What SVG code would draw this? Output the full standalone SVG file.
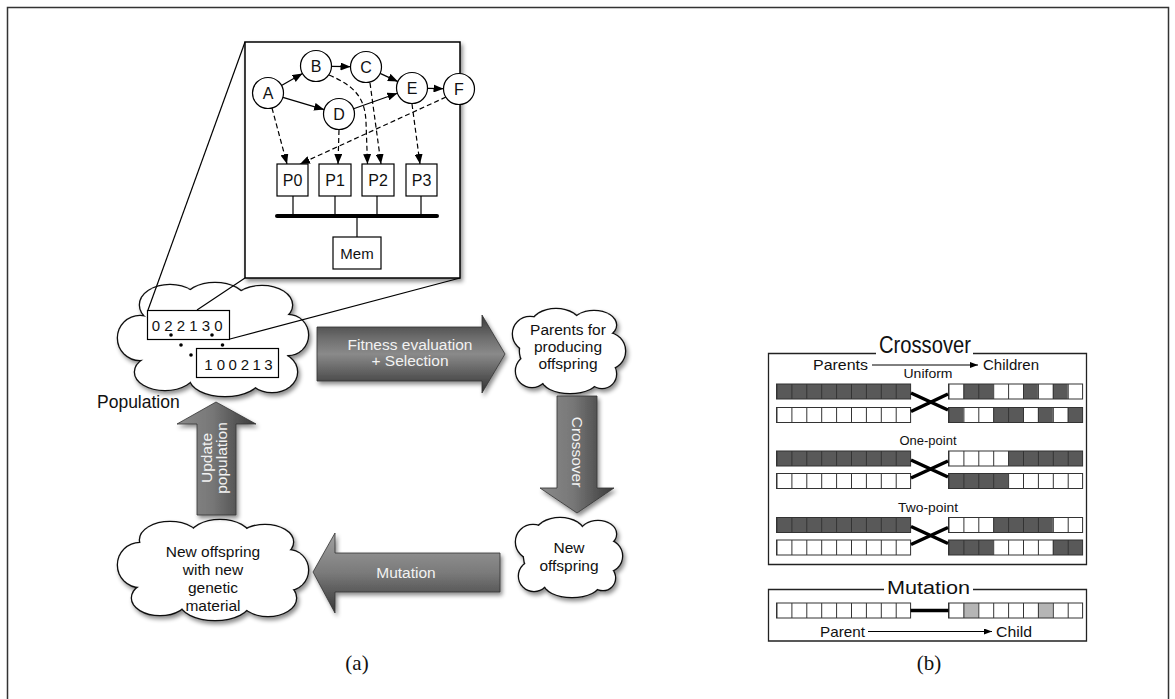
<svg xmlns="http://www.w3.org/2000/svg" width="1175" height="699" viewBox="0 0 1175 699">
<style>
text{font-family:"Liberation Sans",Arial,sans-serif;fill:#111}
.nd{fill:#fff;stroke:#000;stroke-width:1.2}
.nt{font-size:16px;text-anchor:middle}
.sol{fill:none;stroke:#000;stroke-width:1.2;marker-end:url(#ah)}
.dsh{fill:none;stroke:#000;stroke-width:1.2;stroke-dasharray:5 3;marker-end:url(#ah)}
.ln{fill:none;stroke:#000;stroke-width:1.2}
.cs{fill:#fff;stroke:#111;stroke-width:2.6}
.cf{fill:#fff;stroke:none}
.ct{font-size:15.5px;text-anchor:middle}
.at{font-size:15.5px;text-anchor:middle;fill:#f2f2f2}
.bw{fill:#fff}
.dk{fill:#595959}
.gr{fill:#b5b5b5}
.grid{fill:url(#cells);stroke:#333;stroke-width:1}
.box{fill:none;stroke:#222;stroke-width:1.3}
.xl{stroke:#000;stroke-width:3.5;fill:none}
.cap{font-family:"Liberation Serif","Times New Roman",serif;font-size:21px;text-anchor:middle}
</style>
<defs>
<marker id="ah" viewBox="0 0 10 8" refX="10" refY="4" markerWidth="10" markerHeight="8" orient="auto" markerUnits="userSpaceOnUse"><path d="M0,0 L10,4 L0,8 Z" fill="#000"/></marker>
<marker id="ah2" viewBox="0 0 8 6" refX="8" refY="3" markerWidth="8" markerHeight="6" orient="auto" markerUnits="userSpaceOnUse"><path d="M0,0 L8,3 L0,6 Z" fill="#000"/></marker>
<filter id="sh" x="-10%" y="-10%" width="130%" height="130%"><feDropShadow dx="2" dy="3" stdDeviation="2" flood-color="#000" flood-opacity="0.45"/></filter>
<pattern id="cells" width="14.9" height="15" patternUnits="userSpaceOnUse"><line x1="0" y1="0" x2="0" y2="15" stroke="#333" stroke-width="2"/></pattern>
<linearGradient id="gH1" x1="0" y1="0" x2="0" y2="1"><stop offset="0" stop-color="#3a3a3a"/><stop offset="0.3" stop-color="#6e6e6e"/><stop offset="0.5" stop-color="#8a8a8a"/><stop offset="0.72" stop-color="#636363"/><stop offset="1" stop-color="#303030"/></linearGradient>
<linearGradient id="gH2" x1="0" y1="0" x2="0" y2="1"><stop offset="0" stop-color="#a0a0a0"/><stop offset="0.5" stop-color="#7a7a7a"/><stop offset="1" stop-color="#363636"/></linearGradient>
<linearGradient id="gV" x1="0" y1="0" x2="1" y2="0"><stop offset="0" stop-color="#8a8a8a"/><stop offset="0.45" stop-color="#777"/><stop offset="1" stop-color="#3a3a3a"/></linearGradient>
<g id="c1">
<ellipse cx="213" cy="340" rx="80" ry="40"/><circle cx="140" cy="338" r="22"/><ellipse cx="170" cy="305" rx="30" ry="20"/><ellipse cx="215" cy="300" rx="30" ry="17"/><ellipse cx="262" cy="305" rx="30" ry="19"/><circle cx="288" cy="335" r="20"/><ellipse cx="272" cy="372" rx="25" ry="20"/><ellipse cx="225" cy="378" rx="35" ry="18"/><ellipse cx="165" cy="372" rx="30" ry="18"/>
</g>
<g id="c2">
<ellipse cx="568" cy="351" rx="48" ry="31"/><circle cx="530" cy="334" r="17"/><circle cx="532" cy="371" r="16"/><ellipse cx="556" cy="324" rx="24" ry="15"/><ellipse cx="594" cy="325" rx="22" ry="14"/><circle cx="607" cy="351" r="18"/><ellipse cx="570" cy="379" rx="28" ry="14"/><circle cx="602" cy="374" r="14"/>
</g>
<g id="c3">
<ellipse cx="568" cy="557" rx="44" ry="28"/><circle cx="533" cy="542" r="17"/><circle cx="534" cy="576" r="15"/><ellipse cx="560" cy="533" rx="24" ry="15"/><ellipse cx="598" cy="534" rx="18" ry="13"/><circle cx="606" cy="556" r="16"/><ellipse cx="572" cy="583" rx="28" ry="14"/><circle cx="603" cy="578" r="12"/>
</g>
<g id="c4">
<ellipse cx="213" cy="570" rx="80" ry="36"/><circle cx="140" cy="565" r="22"/><ellipse cx="170" cy="540" rx="30" ry="18"/><ellipse cx="220" cy="537" rx="30" ry="17"/><ellipse cx="265" cy="542" rx="28" ry="17"/><circle cx="288" cy="570" r="20"/><ellipse cx="268" cy="598" rx="28" ry="18"/><ellipse cx="215" cy="602" rx="35" ry="18"/><ellipse cx="160" cy="598" rx="28" ry="17"/>
</g>
</defs>
<rect x="7.5" y="7.5" width="1161" height="700" fill="#fff" stroke="#333" stroke-width="1.5"/>

<g id="cloud-population">
<g filter="url(#sh)"><use href="#c1" class="cs"/><use href="#c1" class="cf"/></g>
<text x="97" y="408" style="font-size:17.5px">Population</text>
</g>
<g id="cloud-parents">
<g filter="url(#sh)"><use href="#c2" class="cs"/><use href="#c2" class="cf"/></g>
<text class="ct" x="568" y="335">Parents for</text>
<text class="ct" x="568" y="352">producing</text>
<text class="ct" x="568" y="369">offspring</text>
</g>
<g id="cloud-newoffspring">
<g filter="url(#sh)"><use href="#c3" class="cs"/><use href="#c3" class="cf"/></g>
<text class="ct" x="569" y="553">New</text>
<text class="ct" x="569" y="571">offspring</text>
</g>
<g id="cloud-newgenetic">
<g filter="url(#sh)"><use href="#c4" class="cs"/><use href="#c4" class="cf"/></g>
<text class="ct" x="213" y="557">New offspring</text>
<text class="ct" x="213" y="575">with new</text>
<text class="ct" x="213" y="593">genetic</text>
<text class="ct" x="213" y="611">material</text>
</g>

<g id="arrow-fitness">
<path d="M317,327 H482 V315 L505,354 L482,393 V381 H317 Z" fill="url(#gH1)" stroke="#333" stroke-width="0.8" filter="url(#sh)"/>
<text class="at" x="410" y="350">Fitness evaluation</text>
<text class="at" x="410" y="366">+ Selection</text>
</g>
<g id="arrow-crossover">
<path d="M557,396 H597 V488 H614 L577,513 L540,488 H557 Z" fill="url(#gV)" stroke="#333" stroke-width="0.8" filter="url(#sh)"/>
<text class="at" transform="translate(577,452) rotate(90)" x="0" y="5">Crossover</text>
</g>
<g id="arrow-mutation">
<path d="M500,553 H335 V533 L313,572 L335,613 V592 H500 Z" fill="url(#gH2)" stroke="#333" stroke-width="0.8" filter="url(#sh)"/>
<text class="at" x="406" y="578">Mutation</text>
</g>
<g id="arrow-update">
<path d="M197,515 V424 H177 L216,402 L256,424 H236 V515 Z" fill="url(#gV)" stroke="#333" stroke-width="0.8" filter="url(#sh)"/>
<g transform="translate(216,458) rotate(-90)">
<text class="at" x="0" y="-4">Update</text>
<text class="at" x="0" y="11">population</text>
</g>
</g>

<g id="zoom-lines">
<line class="ln" x1="245" y1="42" x2="148" y2="310"/>
<line class="ln" x1="245" y1="278" x2="197" y2="310"/>
<line class="ln" x1="460" y1="278" x2="230" y2="339"/>
</g>
<g id="chromosomes">
<rect x="147.5" y="310.5" width="82" height="29" fill="#fff" stroke="#000" stroke-width="1.2"/>
<text x="151.8 164.3 176.8 189.3 201.8 214.3" y="331" style="font-size:15px">022130</text>
<rect x="196.5" y="348.5" width="82" height="29" fill="#fff" stroke="#000" stroke-width="1.2"/>
<text x="204.2 216.7 228.5 240.8 252.5 264.2" y="370" style="font-size:15px">100213</text>
<g fill="#000"><circle cx="171" cy="335" r="1.8"/><circle cx="212" cy="335" r="1.8"/><circle cx="181" cy="345" r="1.8"/><circle cx="222.5" cy="345" r="1.8"/><circle cx="191" cy="355" r="1.8"/></g>
</g>

<g id="inset">
<rect x="245" y="42" width="215" height="236" fill="#fff" stroke="#000" stroke-width="1.5" filter="url(#sh)"/>
<g id="connectors">
<line class="sol" x1="281.5" y1="85.4" x2="302.5" y2="73.6"/>
<line class="sol" x1="331.5" y1="66.3" x2="350.5" y2="66.7"/>
<line class="sol" x1="380.1" y1="73.4" x2="397.9" y2="81.6"/>
<line class="sol" x1="282.9" y1="97.4" x2="324.1" y2="109.6"/>
<line class="sol" x1="353.6" y1="108.8" x2="397.4" y2="93.2"/>
<line class="sol" x1="427.5" y1="88.3" x2="443.5" y2="88.7"/>
<line class="dsh" x1="272" y1="108" x2="287" y2="164"/>
<line class="dsh" x1="339" y1="130" x2="338" y2="164"/>
<path class="dsh" d="M329,75 C355,86 365,98 366,122 L367.5,164"/>
<line class="dsh" x1="370" y1="83" x2="381" y2="164"/>
<line class="dsh" x1="412" y1="104" x2="420" y2="164"/>
<line class="dsh" x1="446" y1="97" x2="300" y2="164"/>
<line class="ln" x1="293" y1="196" x2="293" y2="216"/>
<line class="ln" x1="335" y1="196" x2="335" y2="216"/>
<line class="ln" x1="377" y1="196" x2="377" y2="216"/>
<line class="ln" x1="421" y1="196" x2="421" y2="216"/>
<line x1="277" y1="216" x2="437" y2="216" stroke="#000" stroke-width="4" stroke-linecap="round"/>
<line class="ln" x1="357" y1="216" x2="357" y2="237"/>
</g>
<g id="node-A"><circle class="nd" cx="268" cy="93" r="15.5"/><text class="nt" x="268" y="99">A</text></g>
<g id="node-B"><circle class="nd" cx="316" cy="66" r="15.5"/><text class="nt" x="316" y="72">B</text></g>
<g id="node-C"><circle class="nd" cx="366" cy="67" r="15.5"/><text class="nt" x="366" y="73">C</text></g>
<g id="node-D"><circle class="nd" cx="339" cy="114" r="15.5"/><text class="nt" x="339" y="120">D</text></g>
<g id="node-E"><circle class="nd" cx="412" cy="88" r="15.5"/><text class="nt" x="412" y="94">E</text></g>
<g id="node-F"><circle class="nd" cx="459" cy="89" r="15.5"/><text class="nt" x="459" y="95">F</text></g>
<g id="P0"><rect class="nd" x="277" y="164" width="31" height="32"/><text class="nt" x="292.5" y="186">P0</text></g>
<g id="P1"><rect class="nd" x="319" y="164" width="32" height="32"/><text class="nt" x="335" y="186">P1</text></g>
<g id="P2"><rect class="nd" x="362" y="164" width="32" height="32"/><text class="nt" x="378" y="186">P2</text></g>
<g id="P3"><rect class="nd" x="406" y="164" width="31" height="32"/><text class="nt" x="421.5" y="186">P3</text></g>
<g id="Mem"><rect class="nd" x="333" y="237" width="48" height="32"/><text class="nt" x="357" y="259" style="font-size:15px">Mem</text></g>
</g>

<text class="cap" x="357" y="670">(a)</text>

<g id="crossover-panel">
<path class="box" d="M876,353.5 H768.5 V564.5 H1086.5 V353.5 H973"/>
<text x="925" y="353" style="font-size:23px" text-anchor="middle" textLength="92" lengthAdjust="spacingAndGlyphs">Crossover</text>
<text x="813" y="369.5" style="font-size:15px" textLength="55" lengthAdjust="spacingAndGlyphs">Parents</text>
<line x1="872" y1="365" x2="978" y2="365" stroke="#000" stroke-width="1" marker-end="url(#ah2)"/>
<text x="983" y="369.5" style="font-size:15px" textLength="56" lengthAdjust="spacingAndGlyphs">Children</text>
<text x="928" y="378" style="font-size:12.5px" text-anchor="middle" textLength="49" lengthAdjust="spacingAndGlyphs">Uniform</text>
<g transform="translate(776.5,384)"><rect class="dk" width="134.1" height="15"/><rect class="grid" width="134.1" height="15"/></g>
<g transform="translate(776.5,407.5)"><rect class="bw" width="134.1" height="15"/><rect class="grid" width="134.1" height="15"/></g>
<g transform="translate(948.5,384)"><rect class="bw" width="134.1" height="15"/><rect class="dk" x="14.9" width="29.8" height="15"/><rect class="dk" x="74.5" width="14.9" height="15"/><rect class="dk" x="104.3" width="14.9" height="15"/><rect class="grid" width="134.1" height="15"/></g>
<g transform="translate(948.5,407.5)"><rect class="bw" width="134.1" height="15"/><rect class="dk" x="0" width="14.9" height="15"/><rect class="dk" x="44.7" width="29.8" height="15"/><rect class="dk" x="89.4" width="14.9" height="15"/><rect class="dk" x="119.2" width="14.9" height="15"/><rect class="grid" width="134.1" height="15"/></g>
<path class="xl" d="M911,393 L948,410 M911,411.5 L948,394"/>

<text x="928" y="444.5" style="font-size:12.5px" text-anchor="middle" textLength="57" lengthAdjust="spacingAndGlyphs">One-point</text>
<g transform="translate(776.5,451)"><rect class="dk" width="134.1" height="15"/><rect class="grid" width="134.1" height="15"/></g>
<g transform="translate(776.5,473.5)"><rect class="bw" width="134.1" height="15"/><rect class="grid" width="134.1" height="15"/></g>
<g transform="translate(948.5,451)"><rect class="bw" width="134.1" height="15"/><rect class="dk" x="59.6" width="74.5" height="15"/><rect class="grid" width="134.1" height="15"/></g>
<g transform="translate(948.5,473.5)"><rect class="bw" width="134.1" height="15"/><rect class="dk" x="0" width="59.6" height="15"/><rect class="grid" width="134.1" height="15"/></g>
<path class="xl" d="M911,460 L948,477 M911,478 L948,461"/>

<text x="928" y="511.5" style="font-size:12.5px" text-anchor="middle" textLength="60" lengthAdjust="spacingAndGlyphs">Two-point</text>
<g transform="translate(776.5,517.5)"><rect class="dk" width="134.1" height="15"/><rect class="grid" width="134.1" height="15"/></g>
<g transform="translate(776.5,540)"><rect class="bw" width="134.1" height="15"/><rect class="grid" width="134.1" height="15"/></g>
<g transform="translate(948.5,517.5)"><rect class="bw" width="134.1" height="15"/><rect class="dk" x="44.7" width="59.6" height="15"/><rect class="grid" width="134.1" height="15"/></g>
<g transform="translate(948.5,540)"><rect class="bw" width="134.1" height="15"/><rect class="dk" x="0" width="44.7" height="15"/><rect class="dk" x="104.3" width="29.8" height="15"/><rect class="grid" width="134.1" height="15"/></g>
<path class="xl" d="M911,526.5 L948,543.5 M911,544.5 L948,527.5"/>
</g>

<g id="mutation-panel">
<path class="box" d="M884,589.5 H768.5 V641 H1086.5 V589.5 H973"/>
<text x="928.5" y="594" style="font-size:19px" text-anchor="middle" textLength="83" lengthAdjust="spacingAndGlyphs">Mutation</text>
<g transform="translate(776.5,603)"><rect class="bw" width="134.1" height="15"/><rect class="grid" width="134.1" height="15"/></g>
<g transform="translate(948.5,603)"><rect class="bw" width="134.1" height="15"/><rect class="gr" x="14.9" width="14.9" height="15"/><rect class="gr" x="89.4" width="14.9" height="15"/><rect class="grid" width="134.1" height="15"/></g>
<line x1="910.6" y1="610.5" x2="948.5" y2="610.5" stroke="#000" stroke-width="3.5"/>
<text x="820" y="637" style="font-size:14.5px" textLength="45" lengthAdjust="spacingAndGlyphs">Parent</text>
<line x1="868" y1="631.5" x2="992" y2="631.5" stroke="#000" stroke-width="1" marker-end="url(#ah2)"/>
<text x="996" y="637" style="font-size:14.5px" textLength="36" lengthAdjust="spacingAndGlyphs">Child</text>
</g>

<text class="cap" x="929" y="670">(b)</text>
</svg>
